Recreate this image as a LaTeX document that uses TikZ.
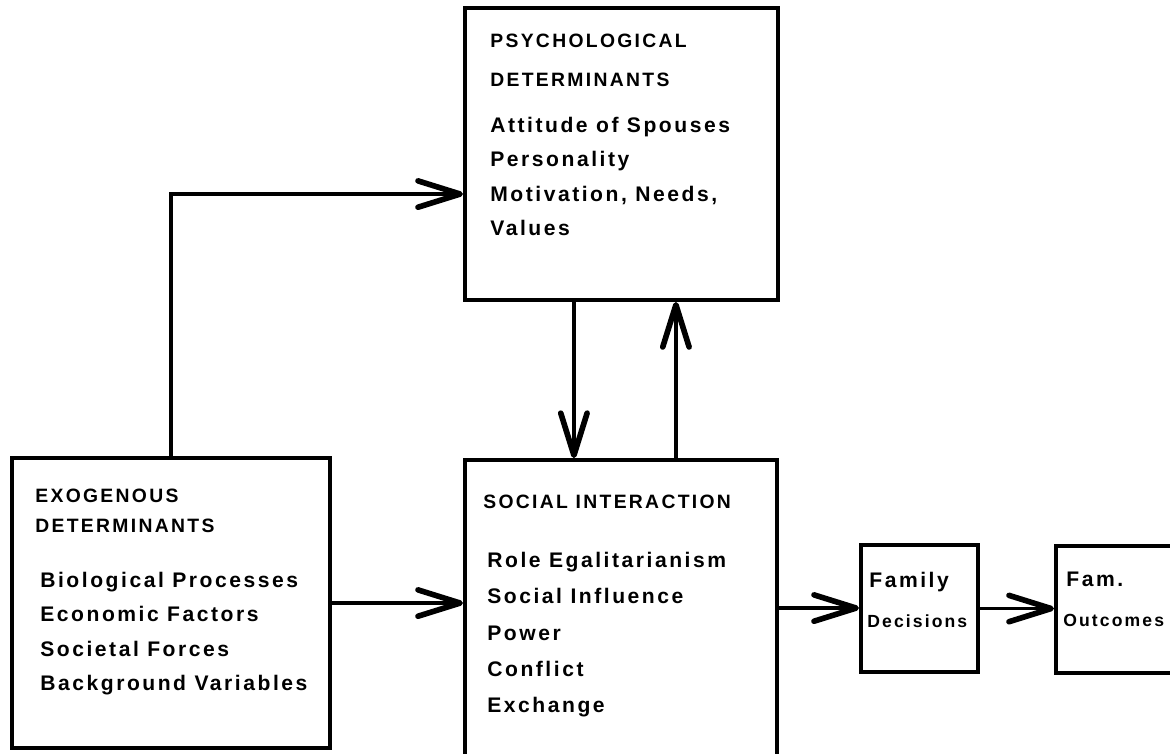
\documentclass[tikz,border=0pt]{standalone}
\usepackage{fontspec}
\setmainfont{Liberation Sans}[LetterSpace=12]
\usetikzlibrary{arrows.meta}

\begin{document}
\begin{tikzpicture}[font=\bfseries,
  box/.style={draw,line width=2.2pt,inner sep=0pt,anchor=south west},
  head/.style={anchor=north west,inner sep=0pt,align=left,font=\fontsize{11}{20}\selectfont\bfseries},
  items/.style={anchor=north west,inner sep=0pt,align=left,font=\fontsize{12}{19.5}\selectfont\bfseries},
  barb/.style={line width=2pt,-{Straight Barb[length=24pt,width=15pt,line width=3.2pt,round]}}]
\useasboundingbox (0,0) rectangle (23.4,15.08);

\node[box,minimum width=6.26cm,minimum height=5.84cm] (psych) at (9.26,9.04) {};
\node[box,minimum width=6.36cm,minimum height=5.8cm] (exo) at (0.2,0.08) {};
\node[box,minimum width=6.24cm,minimum height=5.92cm] (social) at (9.26,-0.08) {};
\node[box,minimum width=2.34cm,minimum height=2.54cm] (decis) at (17.18,1.6) {};
\node[box,minimum width=2.72cm,minimum height=2.54cm] (outc) at (21.08,1.58) {};

\node[head,font=\fontsize{11}{22}\selectfont\bfseries] (psychhead) at (9.8,14.4) {PSYCHOLOGICAL\\DETERMINANTS};
\node[items] (psychlist) at (9.8,12.74) {Attitude of Spouses\\Personality\\Motivation, Needs,\\Values};

\node[head,font=\fontsize{11}{17}\selectfont\bfseries] (exohead) at (0.7,5.3) {EXOGENOUS\\DETERMINANTS};
\node[items] (exolist) at (0.8,3.64) {Biological Processes\\Economic Factors\\Societal Forces\\Background Variables};

\node[head] (socialhead) at (9.66,5.18) {SOCIAL INTERACTION};
\node[items,font=\fontsize{12}{20.6}\selectfont\bfseries] (sociallist) at (9.74,4.04) {Role Egalitarianism\\Social Influence\\Power\\Conflict\\Exchange};

\node[items] (decisa) at (17.38,3.64) {Family};
\node[items,font=\fontsize{10}{12}\selectfont\bfseries] (decisb) at (17.34,2.8) {Decisions};
\node[items] (outca) at (21.32,3.64) {Fam.};
\node[items,font=\fontsize{10}{12}\selectfont\bfseries] (outcb) at (21.26,2.8) {Outcomes};

\draw[barb] (exo.north) |- ([yshift=-0.8cm]psych.west);
\draw[barb] ([xshift=-0.95cm]psych.south) -- ([xshift=-0.95cm]psych.south |- social.north);
\draw[barb] ([xshift=1.09cm]psych.south |- social.north) -- ([xshift=1.09cm]psych.south);
\draw[barb] (exo.east) -- (exo.east -| social.west);
\draw[barb] (social.east) -- (social.east -| decis.west);
\draw[barb] (decis.east) -- (decis.east -| outc.west);

\end{tikzpicture}
\end{document}
